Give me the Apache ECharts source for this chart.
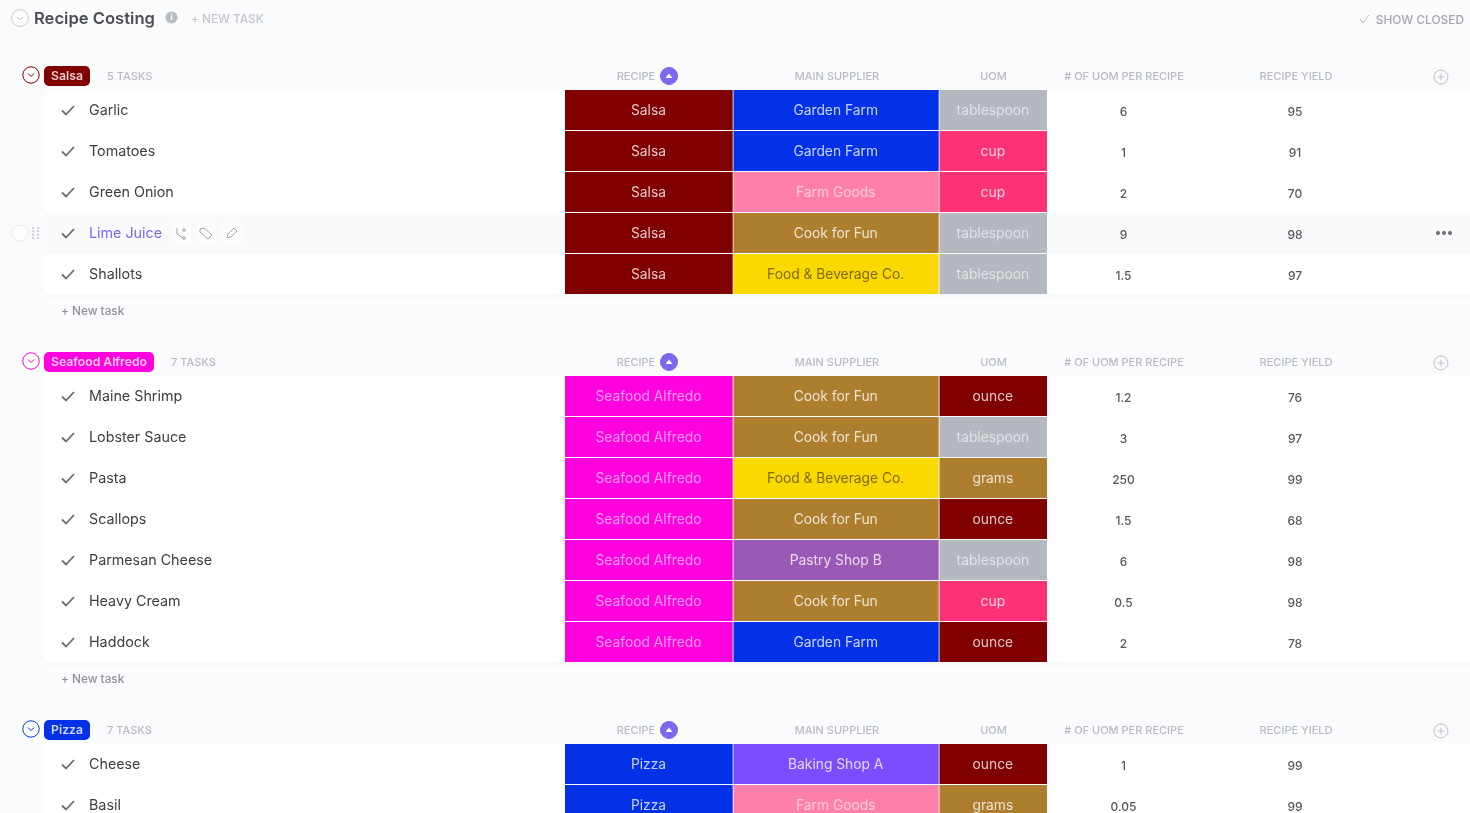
<!DOCTYPE html>
<html>
<head>
<meta charset="utf-8">
<title>Recipe Costing</title>
<script src="https://cdn.jsdelivr.net/npm/echarts@6/dist/echarts.min.js"></script>
<style>
html,body{margin:0;padding:0;background:#fafbfd;overflow:hidden}
#main{width:1470px;height:813px}
</style>
</head>
<body>
<div id="main"></div>
<script>
// data
var groupNames = ['Salsa', 'Seafood Alfredo', 'Pizza'];
var groupTaskCounts = [5, 7, 7];
var columnTitles = ['RECIPE', 'MAIN SUPPLIER', 'UOM', '# OF UOM PER RECIPE', 'RECIPE YIELD'];
var taskNames = ['Garlic', 'Tomatoes', 'Green Onion', 'Lime Juice', 'Shallots',
	'Maine Shrimp', 'Lobster Sauce', 'Pasta', 'Scallops', 'Parmesan Cheese', 'Heavy Cream', 'Haddock',
	'Cheese', 'Basil'];
var taskGroups = [0, 0, 0, 0, 0, 1, 1, 1, 1, 1, 1, 1, 2, 2];
var suppliers = ['Garden Farm', 'Garden Farm', 'Farm Goods', 'Cook for Fun', 'Food & Beverage Co.',
	'Cook for Fun', 'Cook for Fun', 'Food & Beverage Co.', 'Cook for Fun', 'Pastry Shop B', 'Cook for Fun', 'Garden Farm',
	'Baking Shop A', 'Farm Goods'];
var uoms = ['tablespoon', 'cup', 'cup', 'tablespoon', 'tablespoon',
	'ounce', 'tablespoon', 'grams', 'ounce', 'tablespoon', 'cup', 'ounce',
	'ounce', 'grams'];
var uomPerRecipe = ['6', '1', '2', '9', '1.5', '1.2', '3', '250', '1.5', '6', '0.5', '2', '1', '0.05'];
var recipeYield = [95, 91, 70, 98, 97, 76, 97, 99, 68, 98, 98, 78, 99, 99];

// colours of the labels
var labelColors = {
	'Salsa': '#800000', 'Seafood Alfredo': '#ff00df', 'Pizza': '#0231e8',
	'Garden Farm': '#0231e8', 'Farm Goods': '#ff7fab', 'Cook for Fun': '#ae7e2f',
	'Food & Beverage Co.': '#f9d900', 'Pastry Shop B': '#9b59b6', 'Baking Shop A': '#7c4dff',
	'tablespoon': '#b3b9bf', 'cup': '#fb3276', 'ounce': '#800000', 'grams': '#ae7e2f'
};
var softText = {'tablespoon': 1, 'Farm Goods': 1, 'Seafood Alfredo': 1};

// layout
var FONT = 'Inter, "Noto Sans", sans-serif';
var groupTops = [90, 376, 744];
var badgeWidths = [46, 110, 46];
var rowPitch = 41, rowH = 40;
var colEdges = [565, 733.5, 939.5, 1047.8];
var hoverTask = 3;

function rowTop(i) {
	var g = taskGroups[i], n = 0;
	for (var k = 0; k < i; k++) { if (taskGroups[k] == g) n++; }
	return groupTops[g] + n * rowPitch;
}
function txt(api, x, y, text, fill, font, align) {
	var p = api.coord([x, y + 1]);
	return {type: 'text', style: {x: p[0], y: p[1], text: text, fill: fill, font: font,
		align: align || 'left', verticalAlign: 'middle'}};
}
function box(api, x0, y0, x1, y1, fill, r) {
	var a = api.coord([x0, y0]), b = api.coord([x1, y1]);
	return {type: 'rect', shape: {x: a[0], y: a[1], width: b[0] - a[0], height: b[1] - a[1], r: r || 0}, style: {fill: fill}};
}
function line(api, pts, stroke, width) {
	return {type: 'polyline', shape: {points: pts.map(function (q) { return api.coord(q); })},
		style: {fill: 'none', stroke: stroke, lineWidth: width || 1}};
}
function ring(api, x, y, r, stroke, fill, width) {
	var p = api.coord([x, y]);
	return {type: 'circle', shape: {cx: p[0], cy: p[1], r: r}, style: {fill: fill || 'none', stroke: stroke, lineWidth: width || 1}};
}

// white row strip, check mark, name
function renderTask(params, api) {
	var i = api.value(0), top = rowTop(i), mid = top + rowH / 2;
	var hover = i == hoverTask;
	var kids = [
		box(api, 45, top - 0.5, 1470, top + rowPitch - 0.5, hover ? '#f9fafc' : '#ffffff'),
		line(api, [[62, mid + 0.5], [66, mid + 4.5], [74, mid - 4]], '#6a6c6f', 1.8),
		txt(api, 89, mid, taskNames[i], hover ? '#7b68ee' : '#3c3f42', '14.3px ' + FONT)
	];
	if (hover) {
		// hover tools next to the name
		[181, 206, 232].forEach(function (x) { kids.push(box(api, x - 10, mid - 10, x + 10, mid + 10, '#fdfdfe', 3)); });
		kids.push(line(api, [[177, mid - 5], [177, mid + 1], [183, mid + 5]], '#a0a3a6', 1));
		kids.push(ring(api, 184, mid - 3, 1.3, '#a0a3a6'));
		kids.push(ring(api, 184, mid + 5, 1.3, '#a0a3a6'));
		kids.push(line(api, [[200, mid - 4], [204, mid - 5], [212, mid + 2], [208, mid + 6], [200, mid - 1], [200, mid - 4]], '#a0a3a6', 1));
		kids.push(line(api, [[227, mid + 5], [228, mid + 1], [234, mid - 5], [237, mid - 2], [231, mid + 4], [227, mid + 5]], '#a0a3a6', 1));
		// hover handle and menu
		kids.push(ring(api, 20, mid, 8, '#e6e9ee', '#ffffff'));
		[33, 38].forEach(function (x) {
			[-5, -1.7, 1.7, 5].forEach(function (d) { kids.push(ring(api, x, mid + d, 0.7, '#c8ccd1', '#c8ccd1', 0)); });
		});
		[1438, 1444, 1450].forEach(function (x) { kids.push(ring(api, x, mid, 1.7, '#77797c', '#77797c', 0)); });
	}
	return {type: 'group', children: kids};
}

// one coloured cell; value = [column, task]
function renderCell(params, api) {
	var c = api.value(0), i = api.value(1), top = rowTop(i);
	var g = groupNames[taskGroups[i]];
	var label = c == 0 ? g : c == 1 ? suppliers[i] : uoms[i];
	var x0 = colEdges[c], x1 = colEdges[c + 1];
	var fg = softText[label] ? 'rgba(255,255,255,0.6)' : label == 'Food & Beverage Co.' ? '#82690a' : 'rgba(255,255,255,0.78)';
	return {type: 'group', children: [
		box(api, x0, top, x1 - 0.8, top + rowH, labelColors[label]),
		txt(api, (x0 + x1) / 2 - 0.8, top + rowH / 2, label, fg, '13.8px ' + FONT, 'center')
	]};
}

function renderNumbers(params, api) {
	var i = api.value(0), mid = rowTop(i) + rowH / 2 + 1.5;
	var f = '500 12px ' + FONT;
	return {type: 'group', children: [
		txt(api, 1123.5, mid, uomPerRecipe[i], '#55585b', f, 'center'),
		txt(api, 1295, mid, String(recipeYield[i]), '#55585b', f, 'center')
	]};
}

// badge, column titles and the "+ New task" line of one group
function renderGroup(params, api) {
	var g = api.value(0), top = groupTops[g], y = top - 14;
	var color = labelColors[groupNames[g]], w = badgeWidths[g];
	var head = '500 11px ' + FONT, headFill = '#b8bcc1';
	var kids = [
		ring(api, 31, y - 1, 8.2, color, '#ffffff'),
		line(api, [[28, y - 2.5], [31, y + 0.5], [34, y - 2.5]], color, 1),
		box(api, 44, y - 10, 44 + w, y + 10, color, 5),
		txt(api, 44 + w / 2, y - 0.5, groupNames[g], 'rgba(255,255,255,0.8)', '600 12.2px ' + FONT, 'center'),
		txt(api, 44 + w + 17, y, groupTaskCounts[g] + ' TASKS', headFill, '500 11px ' + FONT),
		txt(api, 636, y, columnTitles[0], headFill, head, 'center'),
		ring(api, 669, y, 8.5, '#7b68ee', '#7b68ee'),
		{type: 'polygon', shape: {points: [api.coord([665.5, y + 2]), api.coord([672.5, y + 2]), api.coord([669, y - 2.5])]}, style: {fill: '#ffffff'}},
		txt(api, 837, y, columnTitles[1], headFill, head, 'center'),
		txt(api, 993.5, y, columnTitles[2], headFill, head, 'center'),
		txt(api, 1124, y, columnTitles[3], headFill, head, 'center'),
		txt(api, 1296, y, columnTitles[4], headFill, head, 'center'),
		ring(api, 1441, y + 1, 7, '#bcc0c4'),
		line(api, [[1437.5, y + 1], [1444.5, y + 1]], '#bcc0c4'),
		line(api, [[1441, y - 2.5], [1441, y + 4.5]], '#bcc0c4')
	];
	var bottom = top + groupTaskCounts[g] * rowPitch;
	if (bottom < 813) {
		kids.push(box(api, 45, bottom - 0.5, 1470, bottom + 2, '#f6f7f9'));
		kids.push(txt(api, 61, bottom + 15, '+ New task', '#8f9296', '500 11.8px ' + FONT));
	}
	return {type: 'group', children: kids};
}

var taskData = taskNames.map(function (n, i) { return [i]; });
var cellData = [];
taskNames.forEach(function (n, i) { cellData.push([0, i], [1, i], [2, i]); });

var myChart = echarts.init(document.getElementById('main'), null, {renderer: 'canvas'});
myChart.setOption({
	animation: false,
	backgroundColor: '#fafbfd',
	grid: {left: 0, right: 0, top: 0, bottom: 0},
	xAxis: {type: 'value', min: 0, max: 1470, show: false},
	yAxis: {type: 'value', min: 0, max: 813, inverse: true, show: false},
	graphic: [
		{type: 'circle', shape: {cx: 20, cy: 18, r: 8.5}, style: {fill: 'none', stroke: '#c9cdd2', lineWidth: 1}, silent: true},
		{type: 'polyline', shape: {points: [[17, 17], [20, 20], [23, 17]]}, style: {fill: 'none', stroke: '#c9cdd2', lineWidth: 1}, silent: true},
		{type: 'text', style: {x: 34, y: 18.5, text: 'Recipe Costing', fill: '#4a4d50', font: '600 16.6px ' + FONT, verticalAlign: 'middle'}, silent: true},
		{type: 'circle', shape: {cx: 171.5, cy: 17.5, r: 6}, style: {fill: '#b9bdc2'}, silent: true},
		{type: 'text', style: {x: 171.5, y: 17.5, text: 'i', fill: '#ffffff', font: '700 9px ' + FONT, align: 'center', verticalAlign: 'middle'}, silent: true},
		{type: 'text', style: {x: 191, y: 19.5, text: '+ NEW TASK', fill: '#c3c6ca', font: '500 11.8px ' + FONT, verticalAlign: 'middle'}, silent: true},
		{type: 'polyline', shape: {points: [[1360, 19], [1363, 23], [1369, 15]]}, style: {fill: 'none', stroke: '#b5b8bc', lineWidth: 1}, silent: true},
		{type: 'text', style: {x: 1464, y: 20, text: 'SHOW CLOSED', fill: '#a4a7ab', font: '500 11.9px ' + FONT, align: 'right', verticalAlign: 'middle'}, silent: true}
	],
	series: [
		{type: 'custom', silent: true, clip: false, data: taskData, renderItem: renderTask},
		{type: 'custom', silent: true, clip: false, data: [[0], [1], [2]], renderItem: renderGroup},
		{type: 'custom', silent: true, clip: false, data: cellData, renderItem: renderCell},
		{type: 'custom', silent: true, clip: false, data: taskData, renderItem: renderNumbers}
	]
});
</script>
</body>
</html>
